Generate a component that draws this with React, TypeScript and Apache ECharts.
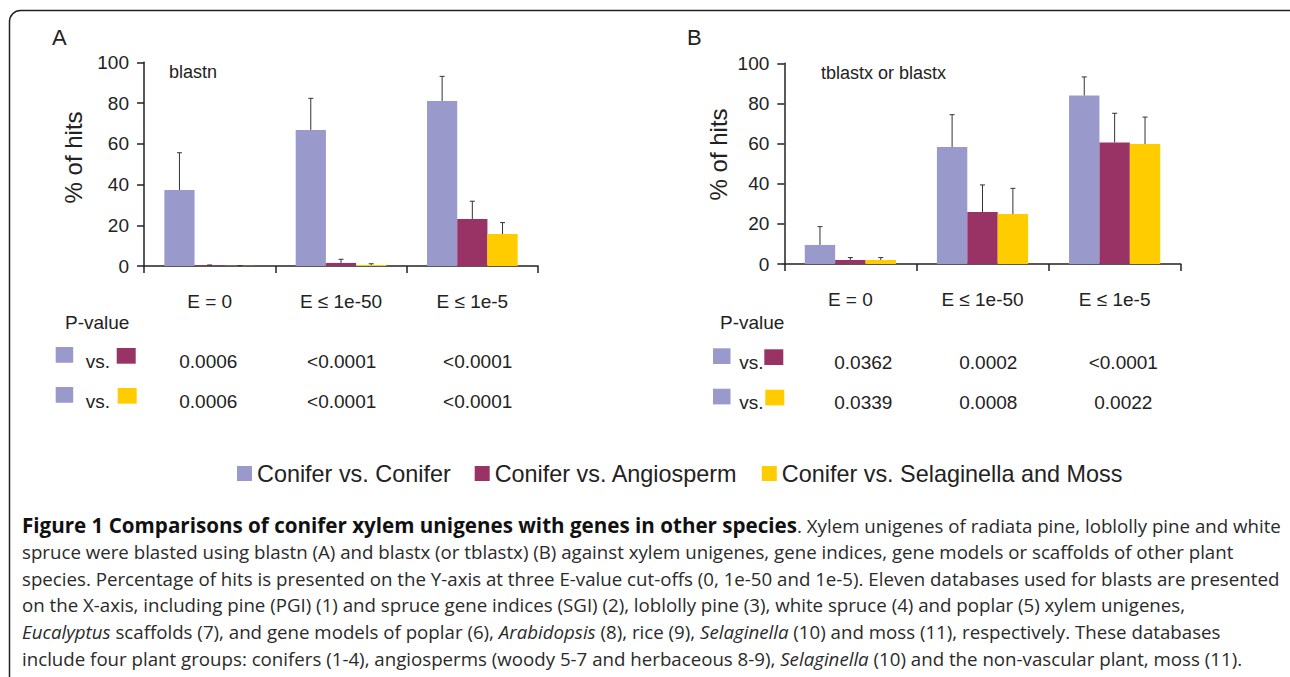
import React, { useEffect, useRef } from "react";
import * as echarts from "echarts";

// ---------- data ----------
const categories = ["E = 0", "E ≤ 1e-50", "E ≤ 1e-5"];
const seriesNames = ["Conifer vs. Conifer", "Conifer vs. Angiosperm", "Conifer vs. Selaginella and Moss"];
const colors = ["#9999CC", "#993366", "#FFCC00"];

// Panel A (blastn)
const aConifer = [37.3, 66.8, 81.0];
const aAngio = [0.3, 1.5, 23.1];
const aSelag = [0.1, 0.5, 15.7];
const aConiferErr = [55.6, 82.3, 93.1];
const aAngioErr = [0.5, 3.3, 31.8];
const aSelagErr = [0.2, 1.1, 21.3];

// Panel B (tblastx or blastx)
const bConifer = [9.5, 58.3, 84.0];
const bAngio = [2.0, 25.9, 60.6];
const bSelag = [2.0, 24.9, 59.8];
const bConiferErr = [18.6, 74.4, 93.2];
const bAngioErr = [3.2, 39.4, 75.1];
const bSelagErr = [3.2, 37.7, 73.2];

const yTicks = { min: 0, max: 100, interval: 20 };

// P-value tables
const pA_angio = ["0.0006", "<0.0001", "<0.0001"];
const pA_selag = ["0.0006", "<0.0001", "<0.0001"];
const pB_angio = ["0.0362", "0.0002", "<0.0001"];
const pB_selag = ["0.0339", "0.0008", "0.0022"];

const captionLines = [
  "{b|Figure 1 Comparisons of conifer xylem unigenes with genes in other species}{n|. Xylem unigenes of radiata pine, loblolly pine and white}",
  "{n|spruce were blasted using blastn (A) and blastx (or tblastx) (B) against xylem unigenes, gene indices, gene models or scaffolds of other plant}",
  "{n|species. Percentage of hits is presented on the Y-axis at three E-value cut-offs (0, 1e-50 and 1e-5). Eleven databases used for blasts are presented}",
  "{n|on the X-axis, including pine (PGI) (1) and spruce gene indices (SGI) (2), loblolly pine (3), white spruce (4) and poplar (5) xylem unigenes,}",
  "{i|Eucalyptus}{n| scaffolds (7), and gene models of poplar (6), }{i|Arabidopsis}{n| (8), rice (9), }{i|Selaginella}{n| (10) and moss (11), respectively. These databases}",
  "{n|include four plant groups: conifers (1-4), angiosperms (woody 5-7 and herbaceous 8-9), }{i|Selaginella}{n| (10) and the non-vascular plant, moss (11).}",
];

const FONT = "Liberation Sans, Arial, sans-serif";
const CAP_FONT = "Open Sans, sans-serif";
const INK = "#222";

const BAR_GAP_CAT = 0.31;

export default function App() {
  const ref = useRef<HTMLDivElement>(null);

  useEffect(() => {
    document.body.style.margin = "0";
    const chart = echarts.init(ref.current!, null, { renderer: "svg" });

    const errRender = (params: any, api: any) => {
      const c = api.value(0);
      const v = api.value(1);
      const e = api.value(2);
      const s = api.value(3);
      const base = api.coord([c, v]);
      const top = api.coord([c, e]);
      const band = api.size([1, 0])[0];
      const bw = (band * (1 - BAR_GAP_CAT)) / 3;
      const x = base[0] + (s - 1) * bw;
      const st = { stroke: "#333", lineWidth: 1 };
      return {
        type: "group",
        children: [
          { type: "line", shape: { x1: x, y1: base[1], x2: x, y2: top[1] }, style: st },
          { type: "line", shape: { x1: x - 2.5, y1: top[1], x2: x + 2.5, y2: top[1] }, style: st },
        ],
      };
    };

    const errData = (vals: number[][], errs: number[][]) => {
      const out: number[][] = [];
      vals.forEach((arr, s) => arr.forEach((v, c) => out.push([c, v, errs[s][c], s])));
      return out;
    };

    const grids = [
      { left: 144, top: 62.3, width: 394, height: 203.7 },
      { left: 784.3, top: 63.3, width: 396.4, height: 200.7 },
    ];

    const xAxes = grids.map((_, i) => ({
      type: "category",
      gridIndex: i,
      data: categories,
      axisLine: { lineStyle: { color: INK, width: 1.5 } },
      axisTick: { show: true, length: 7, lineStyle: { color: INK, width: 1.5 } },
      axisLabel: { color: INK, fontSize: 19, fontFamily: FONT, margin: 26 },
    }));

    const yAxes = grids.map((_, i) => ({
      type: "value",
      gridIndex: i,
      min: yTicks.min,
      max: yTicks.max,
      interval: yTicks.interval,
      splitLine: { show: false },
      axisLine: { show: true, lineStyle: { color: INK, width: 1.5 } },
      axisTick: { show: true, length: 7, lineStyle: { color: INK, width: 1.5 } },
      axisLabel: { color: INK, fontSize: 19, fontFamily: FONT, margin: 15 },
    }));

    const barSeries = (idx: number, vals: number[][]) =>
      vals.map((d, s) => ({
        type: "bar",
        name: seriesNames[s],
        xAxisIndex: idx,
        yAxisIndex: idx,
        data: d,
        barGap: "0%",
        barCategoryGap: BAR_GAP_CAT * 100 + "%",
        itemStyle: { color: colors[s] },
      }));

    const aVals = [aConifer, aAngio, aSelag];
    const aErrs = [aConiferErr, aAngioErr, aSelagErr];
    const bVals = [bConifer, bAngio, bSelag];
    const bErrs = [bConiferErr, bAngioErr, bSelagErr];

    const text = (t: string, x: number, y: number, size: number, extra: any = {}) => ({
      type: "text",
      x,
      y,
      style: {
        text: t,
        fontSize: size,
        fontFamily: FONT,
        fill: INK,
        verticalAlign: "middle",
        ...extra,
      },
    });

    const rect = (x: number, y: number, w: number, h: number, fill: string) => ({
      type: "rect",
      shape: { x, y, width: w, height: h },
      style: { fill },
    });

    const table = (
      px: number,
      sqX: number,
      vsX: number,
      sq2X: number,
      rowY: number[],
      colX: number[],
      rows: string[][]
    ) => {
      const els: any[] = [];
      els.push(text("P-value", px, 322, 19));
      rows.forEach((vals, r) => {
        const cy = rowY[r];
        els.push(rect(sqX, cy - 14, 17.5, 15.7, colors[0]));
        els.push(text("vs.", vsX, cy, 19));
        els.push(rect(sq2X + (r === 1 ? 1 : 0), cy - 13, 19, 15.7, colors[r + 1]));
        vals.forEach((v, c) => els.push(text(v, colX[c], cy, 19, { align: "center" })));
      });
      return els;
    };

    const capStyles = {
      n: { fontSize: 18.7, fontFamily: CAP_FONT, fill: "#2a2a2a" },
      b: { fontSize: 20.6, fontFamily: CAP_FONT, fontWeight: "bold", fill: "#111" },
      i: { fontSize: 18.7, fontFamily: CAP_FONT, fontStyle: "italic", fill: "#2a2a2a" },
    };

    const graphics: any[] = [
      {
        type: "rect",
        shape: { x: 9.5, y: 10.5, width: 1300, height: 700, r: 11 },
        style: { fill: "none", stroke: "#222", lineWidth: 1.5 },
      },
      text("A", 52, 37, 22),
      text("B", 687, 37, 22),
      text("blastn", 169, 72, 18),
      text("tblastx or blastx", 821, 73, 18),
      {
        type: "text",
        x: 73.7,
        y: 157.4,
        rotation: Math.PI / 2,
        style: { text: "% of hits", fontSize: 24, fontFamily: FONT, fill: INK, align: "center", verticalAlign: "middle" },
      },
      {
        type: "text",
        x: 718,
        y: 154.4,
        rotation: Math.PI / 2,
        style: { text: "% of hits", fontSize: 24, fontFamily: FONT, fill: INK, align: "center", verticalAlign: "middle" },
      },
      ...table(65, 55.7, 85.7, 116.7, [361, 401], [208.3, 341.7, 477.7], [pA_angio, pA_selag]),
      ...table(720, 713, 739.3, 764.3, [362.3, 402.7], [863.3, 988.3, 1123.3], [pB_angio, pB_selag]),
      ...captionLines.map((l, i) => ({
        type: "text",
        x: 22,
        y: 525 + i * 26.6,
        style: { text: l, rich: capStyles, fontSize: 18.7, fontFamily: CAP_FONT, fill: "#2a2a2a", verticalAlign: "middle" },
      })),
    ];

    chart.setOption({
      animation: false,
      backgroundColor: "#fff",
      grid: grids,
      xAxis: xAxes,
      yAxis: yAxes,
      legend: {
        data: seriesNames,
        left: 237,
        top: 462,
        padding: 0,
        icon: "rect",
        itemWidth: 15,
        itemHeight: 15,
        itemGap: 24,
        textStyle: { fontSize: 23.4, fontFamily: FONT, color: INK },
        selectedMode: false,
      },
      series: [
        ...barSeries(0, aVals),
        ...barSeries(1, bVals),
        {
          type: "custom",
          xAxisIndex: 0,
          yAxisIndex: 0,
          renderItem: errRender,
          data: errData(aVals, aErrs),
          encode: { x: 0, y: 2 },
          z: 10,
        },
        {
          type: "custom",
          xAxisIndex: 1,
          yAxisIndex: 1,
          renderItem: errRender,
          data: errData(bVals, bErrs),
          encode: { x: 0, y: 2 },
          z: 10,
        },
      ],
      graphic: graphics,
    });

    return () => chart.dispose();
  }, []);

  return <div ref={ref} style={{ width: 1290, height: 677 }} />;
}
